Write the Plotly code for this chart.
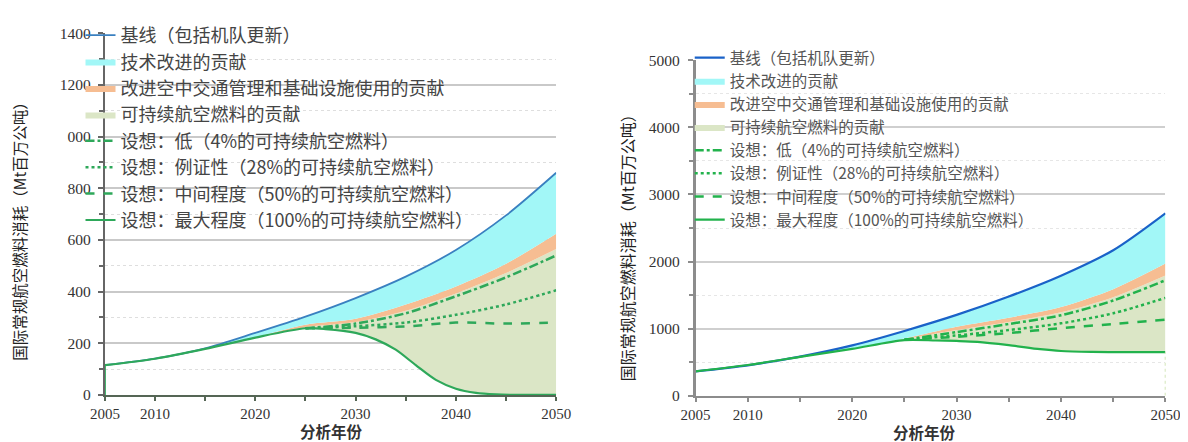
import plotly.graph_objects as go

# ---------------- data ----------------
years = [2005, 2010, 2015, 2020, 2025, 2030, 2035, 2040, 2045, 2050]
scen_years = [2025, 2030, 2035, 2040, 2045, 2050]

# Left chart (Mt)
base_L = [115, 140, 180, 240, 303, 375, 458, 561, 695, 860]
tech_L = [115, 140, 178, 224, 272, 295, 350, 420, 508, 624]
saf_L = [115, 140, 178, 222, 262, 282, 326, 393, 472, 565]
low_L = [258, 276, 316, 382, 455, 540]
ill_L = [258, 266, 280, 310, 350, 405]
mid_L = [258, 260, 265, 280, 276, 280]
max_years_L = [2005, 2010, 2015, 2020, 2025, 2027, 2030, 2032, 2034, 2036, 2038, 2040, 2042, 2044, 2046, 2048, 2050]
max_L = [115, 140, 178, 222, 258, 255, 240, 215, 175, 115, 58, 24, 8, 2, 0, 0, 0]

# Right chart (Mt)
base_R = [365, 455, 584, 751, 967, 1206, 1480, 1790, 2170, 2720]
tech_R = [365, 455, 580, 705, 855, 1030, 1165, 1325, 1590, 1971]
saf_R = [365, 455, 580, 700, 840, 980, 1100, 1244, 1470, 1794]
low_R = [835, 950, 1070, 1200, 1420, 1722]
ill_R = [835, 900, 980, 1080, 1230, 1459]
mid_R = [835, 880, 935, 1010, 1070, 1134]
max_years_R = [2005, 2010, 2015, 2020, 2025, 2028, 2030, 2032, 2035, 2038, 2040, 2043, 2046, 2050]
max_R = [365, 460, 580, 700, 830, 825, 818, 805, 756, 695, 668, 655, 650, 650]

names = ["基线（包括机队更新）", "技术改进的贡献", "改进空中交通管理和基础设施使用的贡献",
         "可持续航空燃料的贡献", "设想：低（4%的可持续航空燃料）", "设想：例证性（28%的可持续航空燃料）",
         "设想：中间程度（50%的可持续航空燃料）", "设想：最大程度（100%的可持续航空燃料）"]

x_tickvals = [2005, 2010, 2015, 2020, 2025, 2030, 2035, 2040, 2045, 2050]
x_ticktext = ["2005", "2010", "", "2020", "", "2030", "", "2040", "", "2050"]
yL_tickvals = [0, 200, 400, 600, 800, 1000, 1200, 1400]
yL_ticktext = ["0", "200", "400", "600", "800", "000", "1200", "1400"]
yR_tickvals = [0, 1000, 2000, 3000, 4000, 5000]

CYAN = "#a2f7f7"
ORANGE = "#f6bd92"
GREEN_FILL = "#dbe6c6"

fig = go.Figure()


def add_chart(xa, ya, leg, base, tech, saf, low, ill, mid, mx_years, mx, blue, green, lw):
    common = dict(xaxis=xa, yaxis=ya, legend=leg, hoverinfo="skip", line_shape="spline")
    # helper base for green fill
    fig.add_trace(go.Scatter(x=mx_years, y=mx, mode="lines", line=dict(width=0, smoothing=0.8),
                             showlegend=False, **common))
    fig.add_trace(go.Scatter(x=years, y=saf, mode="lines", fill="tonexty", fillcolor=GREEN_FILL,
                             line=dict(width=0, color=GREEN_FILL, smoothing=0.8), name=names[3],
                             legendrank=4, legendgroup=leg + "g4", **common))
    fig.add_trace(go.Scatter(x=years, y=tech, mode="lines", fill="tonexty", fillcolor=ORANGE,
                             line=dict(width=0, color=ORANGE, smoothing=0.8), name=names[2],
                             legendrank=3, legendgroup=leg + "g3", **common))
    fig.add_trace(go.Scatter(x=years, y=base, mode="lines", fill="tonexty", fillcolor=CYAN,
                             line=dict(width=0, color=CYAN, smoothing=0.8), name=names[1],
                             legendrank=2, legendgroup=leg + "g2", **common))
    fig.add_trace(go.Scatter(x=years, y=base, mode="lines", line=dict(width=lw, color=blue, smoothing=0.8),
                             name=names[0], legendrank=1, legendgroup=leg + "g1", **common))
    fig.add_trace(go.Scatter(x=scen_years, y=low, mode="lines",
                             line=dict(width=2.5, color=green, dash="dashdot", smoothing=0.8),
                             name=names[4], legendrank=5, legendgroup=leg + "g5", **common))
    fig.add_trace(go.Scatter(x=scen_years, y=ill, mode="lines",
                             line=dict(width=2.5, color=green, dash="dot", smoothing=0.8),
                             name=names[5], legendrank=6, legendgroup=leg + "g6", **common))
    fig.add_trace(go.Scatter(x=scen_years, y=mid, mode="lines",
                             line=dict(width=2.5, color=green, dash="dash", smoothing=0.8),
                             name=names[6], legendrank=7, legendgroup=leg + "g7", **common))
    fig.add_trace(go.Scatter(x=mx_years, y=mx, mode="lines",
                             line=dict(width=2.2, color=green, smoothing=0.8),
                             name=names[7], legendrank=8, legendgroup=leg + "g8", **common))


add_chart("x", "y", "legend", base_L, tech_L, saf_L, low_L, ill_L, mid_L, max_years_L, max_L,
          "#3a80c0", "#2ea85a", 1.8)
add_chart("x2", "y2", "legend2", base_R, tech_R, saf_R, low_R, ill_R, mid_R, max_years_R, max_R,
          "#1a62c8", "#22b24c", 2.2)

# edge segments
fig.add_trace(go.Scatter(x=[years[0], years[0]], y=[0, max_L[0]], mode="lines",
                         line=dict(color="#2ea85a", width=2), showlegend=False, hoverinfo="skip",
                         xaxis="x", yaxis="y"))
fig.add_trace(go.Scatter(x=[years[-1], years[-1]], y=[0, max_R[-1]], mode="lines",
                         line=dict(color="#b5d58a", width=1.2, dash="dot"), showlegend=False,
                         hoverinfo="skip", xaxis="x2", yaxis="y2"))

tickfont = dict(family="Liberation Serif", size=15.5, color="#333333")
xtickfont = dict(family="Liberation Serif", size=15, color="#333333")

xcommon = dict(range=[2005, 2050], tickvals=x_tickvals, ticktext=x_ticktext, ticks="outside",
               ticklen=4, tickwidth=1.5, showgrid=False, zeroline=False, showline=True,
               linewidth=2, tickfont=xtickfont, fixedrange=True)

fig.update_layout(
    width=1188, height=442,
    margin=dict(l=0, r=0, t=0, b=0),
    paper_bgcolor="white", plot_bgcolor="white",
    font=dict(family="Noto Sans CJK SC", color="#444444"),
    xaxis=dict(domain=[84 / 1188, 547 / 1188], anchor="y", linecolor="#556655", tickcolor="#556655",
               **xcommon),
    xaxis2=dict(domain=[690 / 1188, 1172 / 1188], anchor="y2", linecolor="#8c8c8c", tickcolor="#8c8c8c",
                **xcommon),
    yaxis=dict(domain=[(442 - 393) / 442, (442 - 17) / 442], anchor="x", range=[0, 1400],
               tickvals=yL_tickvals, ticktext=yL_ticktext, ticks="outside", ticklen=5, tickwidth=1.5,
               tickcolor="#666666", showline=True, linewidth=2, linecolor="#666666",
               gridcolor="#c9c9c9", gridwidth=1.5, zeroline=False, tickfont=tickfont,
               ticklabelstandoff=4,
               minor=dict(dtick=100, tick0=0, ticks="outside", ticklen=4, tickcolor="#666666",
                          showgrid=True, gridcolor="#dedede", griddash="dot", gridwidth=1),
               fixedrange=True),
    yaxis2=dict(domain=[(442 - 394) / 442, (442 - 45) / 442], anchor="x2", range=[0, 5000],
                tickvals=yR_tickvals, ticks="outside", ticklen=5, tickwidth=1.5,
                tickcolor="#8c8c8c", showline=True, linewidth=2.5, linecolor="#8c8c8c",
                gridcolor="#cfcfcf", gridwidth=1.5, zeroline=False, tickfont=tickfont,
                ticklabelstandoff=5,
                minor=dict(dtick=500, tick0=0, ticks="outside", ticklen=4, tickcolor="#8c8c8c",
                           showgrid=True, gridcolor="#e6e6e6", griddash="dot", gridwidth=1),
                fixedrange=True),
    legend=dict(x=59 / 1188, y=1.0, xanchor="left", yanchor="top",
                bgcolor="rgba(0,0,0,0)", borderwidth=0, traceorder="grouped", tracegroupgap=0,
                font=dict(family="Noto Sans CJK SC", size=18, color="#444444"), itemwidth=30),
    legend2=dict(x=684 / 1188, y=1 - 25 / 442, xanchor="left", yanchor="top",
                 bgcolor="rgba(0,0,0,0)", borderwidth=0, traceorder="grouped", tracegroupgap=0,
                 font=dict(family="Noto Sans CJK SC", size=15.5, color="#555555"), itemwidth=30),
    annotations=[
        dict(text="国际常规航空燃料消耗（Mt百万公吨）", x=-5 / 1188, y=1 - 219 / 442, xref="paper",
             yref="paper", textangle=-90, showarrow=False, xanchor="center", yanchor="middle",
             font=dict(family="Noto Sans CJK SC", size=15.5, color="#222222")),
        dict(text="国际常规航空燃料消耗（Mt百万公吨）", x=620 / 1188, y=1 - 236 / 442, xref="paper",
             yref="paper", textangle=-90, showarrow=False, xanchor="center", yanchor="middle",
             font=dict(family="Noto Sans CJK SC", size=16, color="#222222")),
        dict(text="<b>分析年份</b>", x=316 / 1188, y=1 - 431 / 442, xref="paper", yref="paper",
             showarrow=False, xanchor="center", yanchor="middle",
             font=dict(family="Noto Sans CJK SC", size=15.5, color="#333333")),
        dict(text="<b>分析年份</b>", x=925 / 1188, y=1 - 432 / 442, xref="paper", yref="paper",
             showarrow=False, xanchor="center", yanchor="middle",
             font=dict(family="Noto Sans CJK SC", size=15.5, color="#333333")),
    ],
    showlegend=True,
)

fig.write_html("out.html")
